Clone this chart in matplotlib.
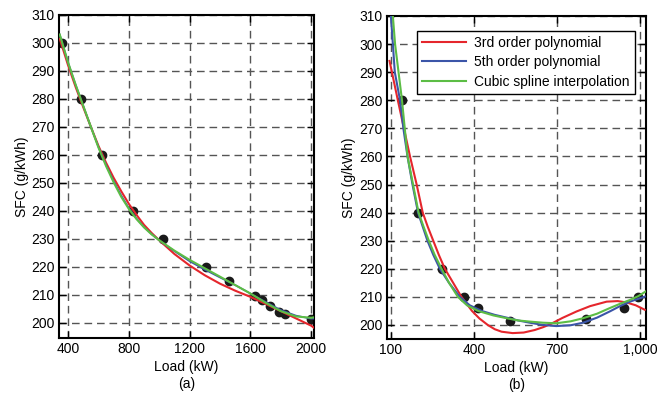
import numpy as np
import matplotlib
matplotlib.use("Agg")
import matplotlib.pyplot as plt
from matplotlib.ticker import FuncFormatter

plt.rcParams['font.family'] = ['Liberation Sans', 'DejaVu Sans']

# (a) measured points
load_a = [360, 485, 620, 825, 1025, 1308, 1460, 1630, 1676, 1730, 1790, 1827, 2000]
sfc_a = [300, 280, 260, 240, 230, 220, 215, 209.5, 208, 206, 204, 203, 201.5]

# (a) fitted curves
fit_load_a = [345, 400, 450, 500, 550, 600, 650, 700, 750, 800, 850, 900, 950, 1000, 1100,
              1200, 1300, 1400, 1500, 1600, 1700, 1800, 1900, 2000, 2020]
red_a = [301.5, 292, 284.2, 277, 270, 263.2, 257.2, 251.8, 247, 242.5, 238.6, 235, 232.1,
         229.5, 224.6, 220.5, 217, 214, 211.5, 209.3, 206.8, 204.2, 201.6, 199, 198.2]
blue_a = [303, 293, 285, 277.5, 270, 262.8, 256.4, 250.6, 245.5, 241, 237.3, 234.2, 231.7,
          229.5, 225.6, 222, 219, 216.2, 213.5, 210.5, 207.5, 204.6, 202.6, 201.5, 201.5]
green_a = [303, 293, 285, 277.5, 270, 262.6, 256, 250.2, 245, 240.7, 237.1, 234.1, 231.6,
           229.5, 225.8, 222.5, 219.5, 216.5, 213.5, 210.5, 207.2, 204.2, 202.3, 201.8, 202]

# (b) measured points
load_b = [140, 198, 284, 364, 415, 530, 805, 942, 995]
sfc_b = [280, 240, 220, 210, 206, 201.5, 202, 206, 210]

# (b) fitted curves
red_load_b = [95, 110, 125, 147, 169, 193, 215, 233, 253, 273, 295, 325, 355, 393, 420,
              450, 475, 500, 540, 580, 620, 650, 675, 720, 771, 820, 880, 920, 952, 985, 1018]
red_b = [294, 287, 280, 270, 260, 250, 240, 235, 230, 225, 220, 215, 210, 205, 202.3,
         200, 198.5, 197.6, 197.1, 197.3, 198.2, 199.2, 200.2, 202.5, 204.8, 206.7, 208.3,
         208.5, 208, 207, 205.4]

blue_load_b = [100, 107, 114, 133, 145, 160, 178, 198, 215, 232, 253, 277, 310, 349, 385,
               428, 475, 523, 560, 602, 650, 698, 750, 795, 845, 891, 930, 964, 1018]
blue_b = [310, 300, 290, 280, 270, 260, 250, 240, 235, 230, 225, 220, 215, 210, 207,
          205, 203.6, 202.5, 201.6, 200.8, 200, 199.6, 199.9, 200.8, 202.6, 204.8, 206.8,
          208.3, 210.1]

green_load_b = [107, 115, 125, 140, 150, 160, 180, 200, 218, 237, 258, 283, 310, 342, 375,
                415, 470, 523, 560, 602, 650, 698, 750, 795, 845, 891, 930, 964, 995, 1022]
green_b = [310, 300, 292, 280, 270, 260, 250, 240, 235, 230, 225, 220, 215, 210, 207,
           205, 203.4, 202.3, 201.6, 201.2, 200.8, 200.6, 201.3, 202.4, 204, 206, 207.6,
           208.9, 210.3, 212]

yticks = [200, 210, 220, 230, 240, 250, 260, 270, 280, 290, 300, 310]
xticks_a = [400, 800, 1200, 1600, 2000]
xticks_b = [100, 400, 700, 1000]

RED = "#e5262c"
BLUE = "#3b55a8"
GREEN = "#5cbd45"

fig = plt.figure(figsize=(6.68, 3.93), dpi=100)
ax1 = fig.add_axes([0.0883, 0.140, 0.382, 0.822])
ax2 = fig.add_axes([0.579, 0.1374, 0.388, 0.822])


def style(ax):
    ax.set_yticks(yticks)
    ax.grid(True, color="#555555", linestyle=(0, (5.5, 3.5)), linewidth=1.0)
    ax.tick_params(direction="in", top=True, right=True, length=5, width=1.0,
                   labelsize=10, pad=3)
    for s in ax.spines.values():
        s.set_linewidth(1.5)
    ax.set_ylabel("SFC (g/kWh)", fontsize=10, labelpad=2)
    ax.set_axisbelow(True)


# (a)
ax1.plot(load_a, sfc_a, "o", color="#1a1a1a", markersize=6, zorder=2)
ax1.plot(fit_load_a, red_a, color=RED, lw=1.5, zorder=3)
ax1.plot(fit_load_a, blue_a, color=BLUE, lw=1.2, zorder=3)
ax1.plot(fit_load_a, green_a, color=GREEN, lw=1.5, zorder=4)
ax1.set_xlim(340, 2020)
ax1.set_ylim(194.6, 310)
ax1.set_xticks(xticks_a)
style(ax1)
ax1.set_xlabel("Load (kW)\n(a)", fontsize=10, labelpad=3)

# (b)
ax2.plot(load_b, sfc_b, "o", color="#1a1a1a", markersize=6, zorder=2)
ax2.plot(red_load_b, red_b, color=RED, lw=1.5, zorder=3, label="3rd order polynomial")
ax2.plot(blue_load_b, blue_b, color=BLUE, lw=1.5, zorder=3, label="5th order polynomial")
ax2.plot(green_load_b, green_b, color=GREEN, lw=1.5, zorder=4, label="Cubic spline interpolation")
ax2.set_xlim(85, 1022)
ax2.set_ylim(195, 310)
ax2.set_xticks(xticks_b)
ax2.xaxis.set_major_formatter(FuncFormatter(lambda v, p: f"{int(v):,}"))
style(ax2)
ax2.set_xlabel("Load (kW)\n(b)", fontsize=10, labelpad=3)
leg = ax2.legend(loc="upper right", bbox_to_anchor=(0.957, 0.954), borderaxespad=0,
                 fontsize=10, fancybox=False, framealpha=1, edgecolor="black",
                 handlelength=3.2, borderpad=0.35, labelspacing=0.4, handletextpad=0.6)
leg.get_frame().set_linewidth(1.0)

fig.savefig("out.png", dpi=100)
